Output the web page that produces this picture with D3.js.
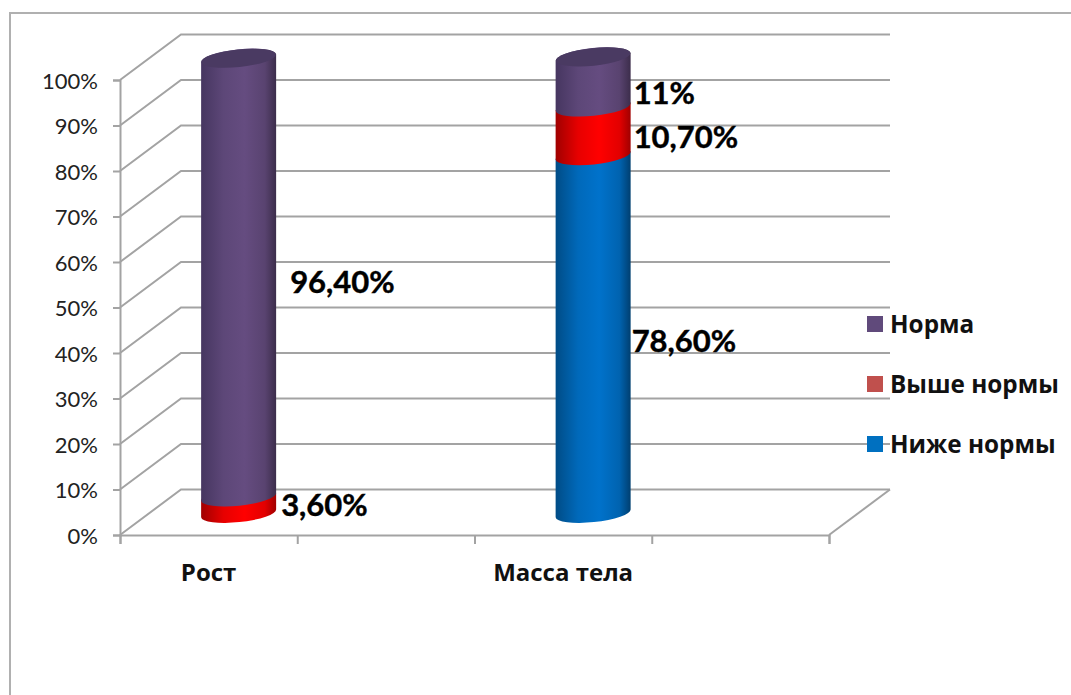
<!DOCTYPE html>
<html><head><meta charset="utf-8">
<script src="https://cdnjs.cloudflare.com/ajax/libs/d3/7.8.5/d3.min.js"></script>
<style>html,body{margin:0;padding:0;background:#fff}svg{display:block}text{font-family:Lato,sans-serif}</style>
</head><body>
<svg id="c" width="1071" height="695"></svg>
<script>
const categories = ["Рост", "", "Масса тела", ""];
const seriesNames = ["Ниже нормы", "Выше нормы", "Норма"];
const belowNorm = [0, null, 78.6, null];
const aboveNorm = [3.6, null, 10.7, null];
const normal = [96.4, null, 11, null];
const labelTexts = [[null, "3,60%", "96,40%"], null, ["78,60%", "10,70%", "11%"], null];
const labelNudge = [[null, [5, 0], [14, 5], null], null, [[1, 7], [3, 6], [3, 11]], null];
const legendColors = ["#0070c0", "#c0504d", "#604a7b"];
const yTicks = d3.range(0, 101, 10);

const svg = d3.select("#c");
const W = 1071, H = 695;
const y = d3.scaleLinear().domain([0, 100]).range([535, 80]);
const x = d3.scaleBand().domain(d3.range(categories.length)).range([120, 829]);
const slot = d3.scaleLinear().domain([0, categories.length]).range([120, 829]);
const depthX = 60, depthY = -45.5;
const rx = 37.5, ry = 8.8, tilt = -6;
const grid = "#a3a3a3";

// border
svg.append("path").attr("d", `M10,${H}V13H${W}`).attr("fill", "none").attr("stroke", "#b0b0b0").attr("stroke-width", 2);

// gridlines and side wall
const g = svg.append("g").attr("fill", "none").attr("stroke", grid).attr("stroke-width", 2);
yTicks.forEach(t => {
  g.append("path").attr("d", `M${slot(0)},${y(t)}l${depthX + 1},${depthY}H${slot(4) + depthX + 1}`);
});
g.append("path").attr("d", `M${slot(4)},${y(0)}l${depthX + 1},${depthY}`);

// axes
const yAxis = svg.append("g").attr("transform", `translate(${slot(0)},0)`)
  .call(d3.axisLeft(y).tickValues(yTicks).tickSize(7).tickPadding(15).tickFormat(d => d + "%"));
const xAxis = svg.append("g").attr("transform", `translate(0,${y(0)})`)
  .call(d3.axisBottom(slot).tickValues(d3.range(categories.length + 1)).tickSize(9).tickFormat(""));
[yAxis, xAxis].forEach(a => {
  a.selectAll("path.domain").attr("stroke", grid).attr("stroke-width", 2);
  a.selectAll("line").attr("stroke", grid).attr("stroke-width", 2);
});
yAxis.selectAll("text").attr("font-size", 22).attr("fill", "#222").attr("dy", "0.37em").style("font-family", "Lato");

// category labels
svg.append("g").selectAll("text").data(categories.filter(c => c)).join("text")
  .attr("x", c => x(categories.indexOf(c)) + x.bandwidth() / 2)
  .attr("y", 581).attr("text-anchor", "middle").style("font-family", "'Open Sans'")
  .attr("font-size", 24).attr("font-weight", 700).attr("fill", "#111").text(c => c);

// gradients
const defs = svg.append("defs");
function grad(id, edgeL, mid, edgeR) {
  const lg = defs.append("linearGradient").attr("id", id).attr("x1", 0).attr("x2", 1).attr("y1", 0).attr("y2", 0);
  [[0, edgeL], [0.3, d3.interpolateRgb(edgeL, mid)(0.75)], [0.58, mid], [0.85, d3.interpolateRgb(edgeR, mid)(0.7)], [1, edgeR]]
    .forEach(([o, c]) => lg.append("stop").attr("offset", o).attr("stop-color", c));
}
grad("g0", "#004c86", "#0072cb", "#003f70");
grad("g1", "#a00000", "#ff0000", "#a00000");
grad("g2", "#463660", "#654c80", "#3c2d4b");
const fills = ["url(#g0)", "url(#g1)", "url(#g2)"];

// cylinders
const rows = categories.map((c, i) => ({ i, vals: [belowNorm[i], aboveNorm[i], normal[i]] })).filter(r => r.vals[0] !== null);
const ex = rx, ey = rx * Math.sin(-tilt * Math.PI / 180);
const barDy = depthY / 2 + 1;
const bars = svg.append("g");
const labels = [];
rows.forEach(r => {
  const cx = x(r.i) + x.bandwidth() / 2 + depthX / 2;
  let acc = 0;
  r.vals.forEach((v, s) => {
    if (!v) return;
    const yb = y(acc) + barDy, yt = y(acc + v) + barDy;
    const lx = cx - ex, rxp = cx + ex;
    const d = `M${lx},${yb + ey}A${rx},${ry} ${tilt} 0 0 ${rxp},${yb - ey}L${rxp},${yt - ey}A${rx},${ry} ${tilt} 0 0 ${lx},${yt + ey}Z`;
    bars.append("path").attr("d", d).attr("fill", fills[s]);
    const n = labelNudge[r.i][s];
    labels.push({ t: labelTexts[r.i][s], x: rxp + n[0], y: y(acc + v / 2) + barDy + n[1] });
    acc += v;
    if (s === r.vals.length - 1) {
      bars.append("ellipse").attr("cx", 0).attr("cy", 0).attr("rx", rx).attr("ry", ry)
        .attr("transform", `translate(${cx},${yt}) rotate(${tilt})`).attr("fill", "#4a3a62");
    }
  });
});

// data labels
svg.append("g").selectAll("text").data(labels).join("text")
  .attr("x", d => d.x).attr("y", d => d.y).attr("dy", "0.35em")
  .attr("font-size", 31).attr("font-weight", 700).attr("fill", "#000").attr("stroke", "#000").attr("stroke-width", 0.4).text(d => d.t);

// legend
const legendY = d3.scalePoint().domain([2, 1, 0]).range([324, 444]);
const lg = svg.append("g");
[2, 1, 0].forEach(s => {
  lg.append("rect").attr("x", 867).attr("y", legendY(s) - 8).attr("width", 16).attr("height", 16).attr("fill", legendColors[s]);
  lg.append("text").attr("x", 890).attr("y", legendY(s)).attr("dy", "0.35em").style("font-family", "'Open Sans'")
    .attr("font-size", 24.3).attr("font-weight", 700).attr("fill", "#111").text(seriesNames[s]);
});
</script>
</body></html>
